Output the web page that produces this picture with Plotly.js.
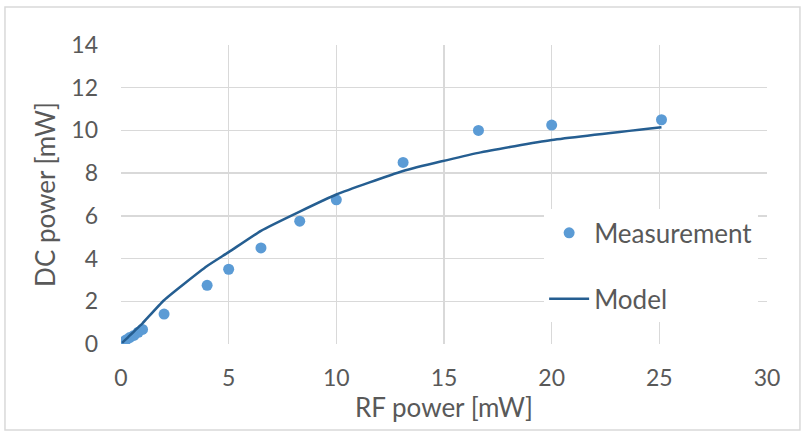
<!DOCTYPE html>
<html>
<head>
<meta charset="utf-8">
<script src="https://cdn.plot.ly/plotly-3.0.1.min.js"></script>
<style>
html,body{margin:0;padding:0;background:#fff;}
#chart{width:808px;height:434px;}
</style>
</head>
<body>
<div id="chart"></div>
<script>
// Measurement data (RF power [mW] -> DC power [mW])
var measX = [0.05, 0.1, 0.25, 0.4, 0.6, 0.8, 1.0, 2.0, 4.0, 5.0, 6.5, 8.3, 10.0, 13.1, 16.6, 20.0, 25.1];
var measY = [0.05, 0.1, 0.2, 0.3, 0.4, 0.55, 0.68, 1.4, 2.75, 3.5, 4.5, 5.75, 6.75, 8.5, 10.0, 10.25, 10.5];
// Model curve
var modelX = [0.05, 0.1, 0.25, 0.4, 0.6, 0.8, 1.0, 2.0, 4.0, 5.0, 6.5, 8.3, 10.0, 13.1, 16.6, 20.0, 25.1];
var modelY = [0.05, 0.1, 0.24, 0.39, 0.58, 0.78, 0.97, 2.05, 3.65, 4.3, 5.3, 6.2, 7.0, 8.1, 8.95, 9.55, 10.15];
var xTicks = [0, 5, 10, 15, 20, 25, 30];
var yTicks = [0, 2, 4, 6, 8, 10, 12, 14];

var FONT = 'Lato, "Liberation Sans", sans-serif';
var GREY = '#595959';
var GRID = '#D9D9D9';

var traces = [
  {
    x: measX, y: measY, type: 'scatter', mode: 'markers', name: 'Measurement',
    legendgroup: 'a',
    marker: {color: '#5B9BD5', size: 11}
  },
  {
    x: modelX, y: modelY, type: 'scatter', mode: 'lines', name: 'Model',
    legendgroup: 'b',
    line: {color: '#255E91', width: 2.5, shape: 'spline', smoothing: 0.5}
  }
];

var layout = {
  width: 808, height: 434,
  margin: {l: 121, r: 41, t: 45, b: 90},
  paper_bgcolor: '#fff', plot_bgcolor: '#fff',
  font: {family: FONT, color: GREY, size: 23},
  showlegend: true,
  legend: {
    x: 0.655, y: 0.261, xanchor: 'left', yanchor: 'middle',
    bgcolor: '#fff', borderwidth: 0,
    font: {family: FONT, size: 26, color: GREY},
    tracegroupgap: 29, traceorder: 'grouped', itemwidth: 40
  },
  xaxis: {
    range: [0, 30], tickvals: xTicks, ticktext: xTicks.map(String),
    showgrid: true, gridcolor: GRID, gridwidth: 1.5,
    zeroline: false, showline: false, ticks: '',
    ticklabelstandoff: 18,
    tickfont: {family: FONT, size: 23, color: GREY},
    title: {text: 'RF power [mW]', font: {family: FONT, size: 26, color: GREY}, standoff: 4}
  },
  yaxis: {
    range: [0, 14], tickvals: yTicks, ticktext: yTicks.map(String),
    showgrid: true, gridcolor: GRID, gridwidth: 1.5,
    zeroline: false, showline: false, ticks: '',
    ticklabelstandoff: 22,
    tickfont: {family: FONT, size: 23, color: GREY},
    title: {text: 'DC power [mW]', font: {family: FONT, size: 26, color: GREY}, standoff: 8}
  },
  shapes: [
    {type: 'rect', xref: 'paper', yref: 'paper', layer: 'below',
     x0: -0.1796, x1: 1.051, y0: -0.2876, y1: 1.127,
     line: {color: GRID, width: 1.5}, fillcolor: 'rgba(0,0,0,0)'}
  ]
};

Plotly.newPlot('chart', traces, layout, {displayModeBar: false, staticPlot: true});
</script>
</body>
</html>
